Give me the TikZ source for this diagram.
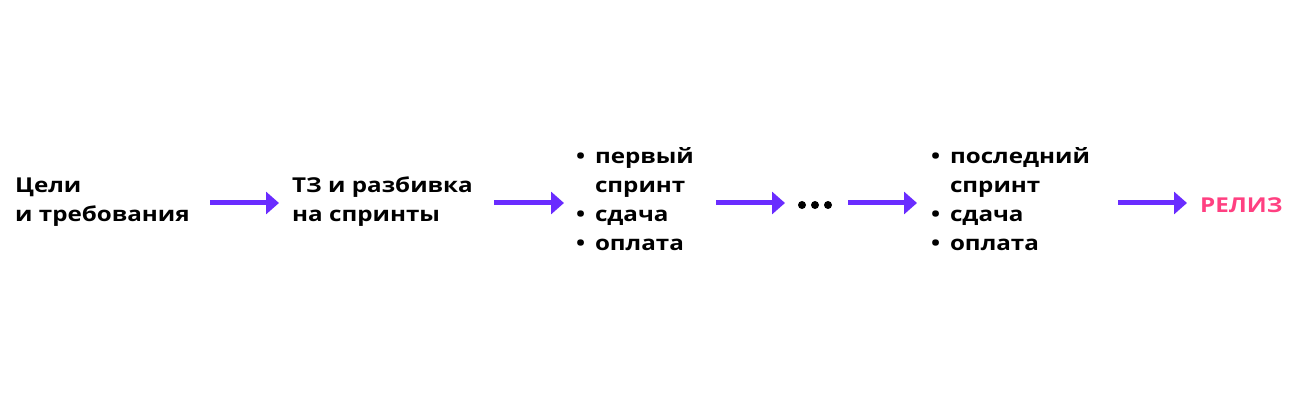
\documentclass[tikz,border=0pt]{standalone}
\usepackage{fontspec}
\setmainfont{Open Sans}[BoldFont={Open Sans Bold},BoldFeatures={FakeStretch=1.18}]
\usetikzlibrary{arrows.meta}
\definecolor{arr}{HTML}{6A2CFF}
\definecolor{rel}{HTML}{FF4081}
\tikzset{
 txt/.style={anchor=west,font=\fontsize{20.5}{29}\selectfont\bfseries,align=left,inner sep=0pt},
 arrow/.style={draw=arr,line width=5pt,-{Triangle[length=13pt,width=22pt]}},
 dot/.style={circle,fill=black,inner sep=0pt,minimum size=8pt}
}
\begin{document}
\begin{tikzpicture}[x=1pt,y=-1pt]
\useasboundingbox (0,0) rectangle (1303,406);
\node[txt] (a) at (15,202) {Цели\\и требования};
\node[txt] (b) at (292,202) {ТЗ и разбивка\\на спринты};
\node[txt] (c) at (576,199) {•\,\ первый\\\phantom{•}\,\ спринт\\•\,\ сдача\\•\,\ оплата};
\node[dot] (d1x) at (802,205) {};
\node[dot] (d2x) at (815,205) {};
\node[dot] (d3x) at (828,205) {};
\node[txt] (e) at (931,199) {•\,\ последний\\\phantom{•}\,\ спринт\\•\,\ сдача\\•\,\ оплата};
\node[txt,text=rel] (f) at (1200,205) {РЕЛИЗ};
\coordinate (a1) at (210,203); \coordinate (a2) at (279,203);
\coordinate (b1) at (494,203); \coordinate (b2) at (564,203);
\coordinate (c1) at (716,203); \coordinate (c2) at (785,203);
\coordinate (d1) at (848,203); \coordinate (d2) at (917,203);
\coordinate (e1) at (1118,203); \coordinate (e2) at (1187,203);
\draw[arrow] (a1) -- (a2);
\draw[arrow] (b1) -- (b2);
\draw[arrow] (c1) -- (c2);
\draw[arrow] (d1) -- (d2);
\draw[arrow] (e1) -- (e2);
\end{tikzpicture}
\end{document}
